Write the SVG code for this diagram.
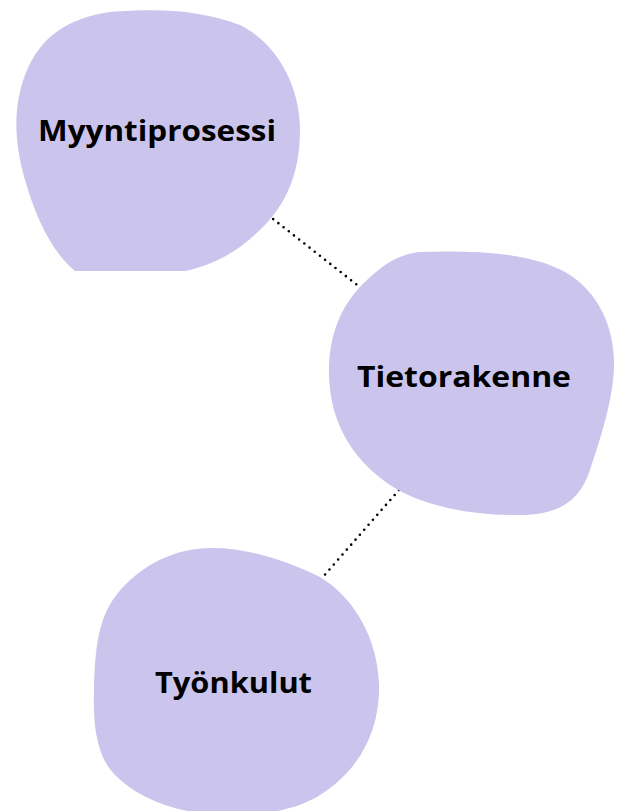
<svg xmlns="http://www.w3.org/2000/svg" width="619" height="811" viewBox="0 0 619 811">
<style>
.blob{fill:#cbc5ed;}
.lbl{font-family:"Open Sans","Liberation Sans",sans-serif;font-weight:700;font-size:29px;fill:#000;text-anchor:middle;}
.con{fill:none;stroke:#000;stroke-width:2.6;stroke-linecap:round;stroke-dasharray:0 6.6;}
</style>
<rect width="619" height="811" fill="#fff"/>
<g id="connectors">
<line class="con" x1="268" y1="215" x2="361" y2="288"/>
<line class="con" x1="399" y1="490" x2="322" y2="578"/>
</g>
<g id="myyntiprosessi">
<path class="blob" d="M 110 12 C 160 8, 200 10, 240 25 C 280 45, 300 90, 300 130 C 300 175, 285 205, 262 228 C 240 250, 215 265, 185 271 L 75 271 C 50 250, 35 215, 25 180 C 15 145, 12 110, 25 75 C 40 35, 70 18, 110 12 Z"/>
<text class="lbl" x="157" y="141" textLength="238" lengthAdjust="spacingAndGlyphs">Myyntiprosessi</text>
</g>
<g id="tietorakenne">
<path class="blob" d="M 420 252 C 470 250, 530 252, 565 272 C 600 292, 615 330, 614 367 C 613 400, 600 440, 590 470 C 580 500, 560 515, 520 515 C 470 516, 420 505, 390 485 C 350 458, 330 420, 329 375 C 328 330, 345 300, 367 280 C 385 263, 400 254, 420 252 Z"/>
<text class="lbl" x="464" y="387" textLength="214" lengthAdjust="spacingAndGlyphs">Tietorakenne</text>
</g>
<g id="tyonkulut">
<path class="blob" d="M 213 548 C 250 548, 290 562, 320 577 C 355 598, 378 640, 379 685 C 380 730, 360 770, 320 795 C 300 808, 270 815, 230 815 C 180 815, 140 800, 115 775 C 95 755, 93 720, 94 690 C 95 640, 100 610, 125 585 C 150 560, 180 548, 213 548 Z"/>
<text class="lbl" x="233.5" y="693" textLength="157" lengthAdjust="spacingAndGlyphs">Työnkulut</text>
</g>
</svg>
